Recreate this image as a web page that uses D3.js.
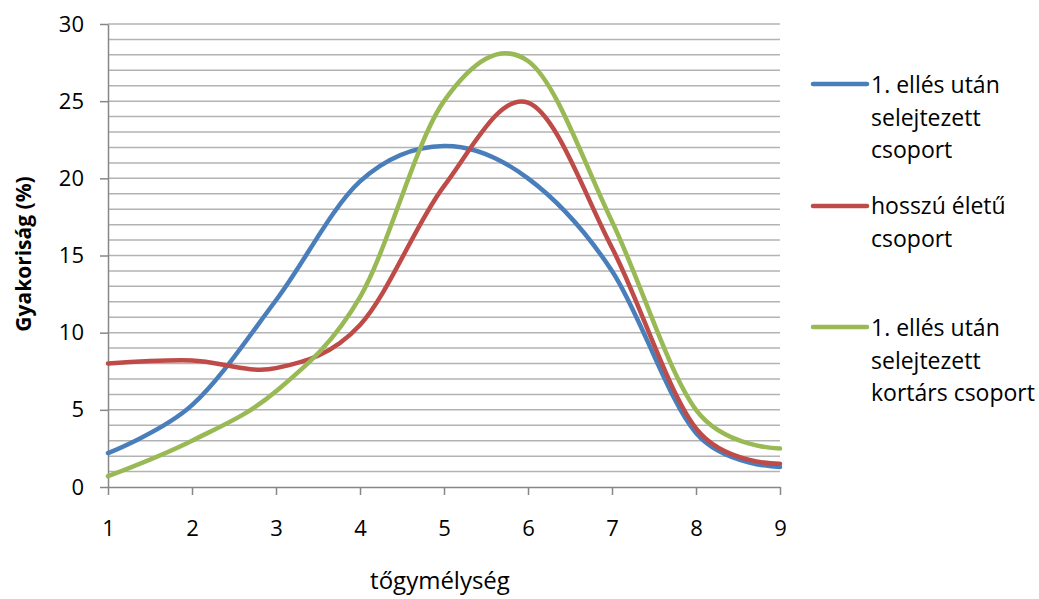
<!DOCTYPE html>
<html lang="hu">
<head>
<meta charset="utf-8">
<title>Gyakoriság</title>
<script src="https://cdn.jsdelivr.net/npm/d3@7"></script>
<style>
body{ margin:0; background:#fff; }
text{ font-family: "Open Sans", "Liberation Sans", Arial, sans-serif; fill:#000; }
.grid line{ stroke:#b3b3b3; stroke-width:1.5; }
.axis path, .axis line{ stroke:#878787; stroke-width:1.5; fill:none; }
.axis text{ font-size:22px; font-family: "Open Sans", sans-serif; }
</style>
</head>
<body>
<svg id="chart" width="1039" height="599"></svg>
<script>
var xValues = [1, 2, 3, 4, 5, 6, 7, 8, 9];
var seriesNames = [
  ["1. ellés után", "selejtezett", "csoport"],
  ["hosszú életű", "csoport"],
  ["1. ellés után", "selejtezett", "kortárs csoport"]
];
var blueValues  = [2.2, 5.3, 12.1, 19.8, 22.1, 20.0, 14.0, 3.5, 1.3];
var redValues   = [8.0, 8.2, 7.7, 10.5, 19.5, 24.9, 15.5, 3.8, 1.5];
var greenValues = [0.7, 3.0, 6.2, 12.3, 25.0, 27.6, 17.2, 5.0, 2.5];
var colors = ["#4a7ebb", "#be4b48", "#98b954"];
var yTicks = [0, 5, 10, 15, 20, 25, 30];

var svg = d3.select('svg');
var plotLeft = 108, plotRight = 780, plotTop = 24, plotBottom = 487;

var x = d3.scaleLinear().domain([1, 9]).range([plotLeft, plotRight]);
var y = d3.scaleLinear().domain([0, 30]).range([plotBottom, plotTop]);

// minor gridlines every 1
svg.append('g').attr('class', 'grid')
  .selectAll('line')
  .data(d3.range(1, 31))
  .enter().append('line')
  .attr('x1', plotLeft).attr('x2', plotRight)
  .attr('y1', function(d) { return y(d); })
  .attr('y2', function(d) { return y(d); });

svg.append('g').attr('class', 'axis')
  .attr('transform', 'translate(' + plotLeft + ',0)')
  .call(d3.axisLeft(y).tickValues(yTicks).tickSize(8).tickPadding(16).tickSizeOuter(0));

svg.append('g').attr('class', 'axis')
  .attr('transform', 'translate(0,' + plotBottom + ')')
  .call(d3.axisBottom(x).tickValues(xValues).tickSize(8).tickPadding(25).tickSizeOuter(0)
    .tickFormat(d3.format('d')));

var line = d3.line()
  .x(function(d, i) { return x(xValues[i]); })
  .y(function(d) { return y(d); })
  .curve(d3.curveCatmullRom.alpha(0));

[blueValues, redValues, greenValues].forEach(function(vals, i) {
  svg.append('path')
    .datum(vals)
    .attr('d', line)
    .attr('fill', 'none')
    .attr('stroke', colors[i])
    .attr('stroke-width', 4.5)
    .attr('stroke-linecap', 'round');
});

// legend
var legendY = [84, 206, 327];
var legendBase = [93, 214, 336];
seriesNames.forEach(function(lines, i) {
  svg.append('line')
    .attr('x1', 813).attr('x2', 867)
    .attr('y1', legendY[i]).attr('y2', legendY[i])
    .attr('stroke', colors[i]).attr('stroke-width', 4.5)
    .attr('stroke-linecap', 'round');
  var t = svg.append('text').attr('x', 871).attr('y', legendBase[i])
    .attr('font-size', '23px');
  lines.forEach(function(s, j) {
    t.append('tspan').attr('x', 871).attr('y', legendBase[i] + j * 32.5).text(s);
  });
});

svg.append('text')
  .attr('transform', 'translate(31,254) rotate(-90)')
  .attr('text-anchor', 'middle')
  .attr('font-size', '21px')
  .attr('font-weight', 'bold')
  .text('Gyakoriság (%)');

svg.append('text')
  .attr('x', 440).attr('y', 589)
  .attr('text-anchor', 'middle')
  .attr('font-size', '24px')
  .text('tőgymélység');
</script>
</body>
</html>
